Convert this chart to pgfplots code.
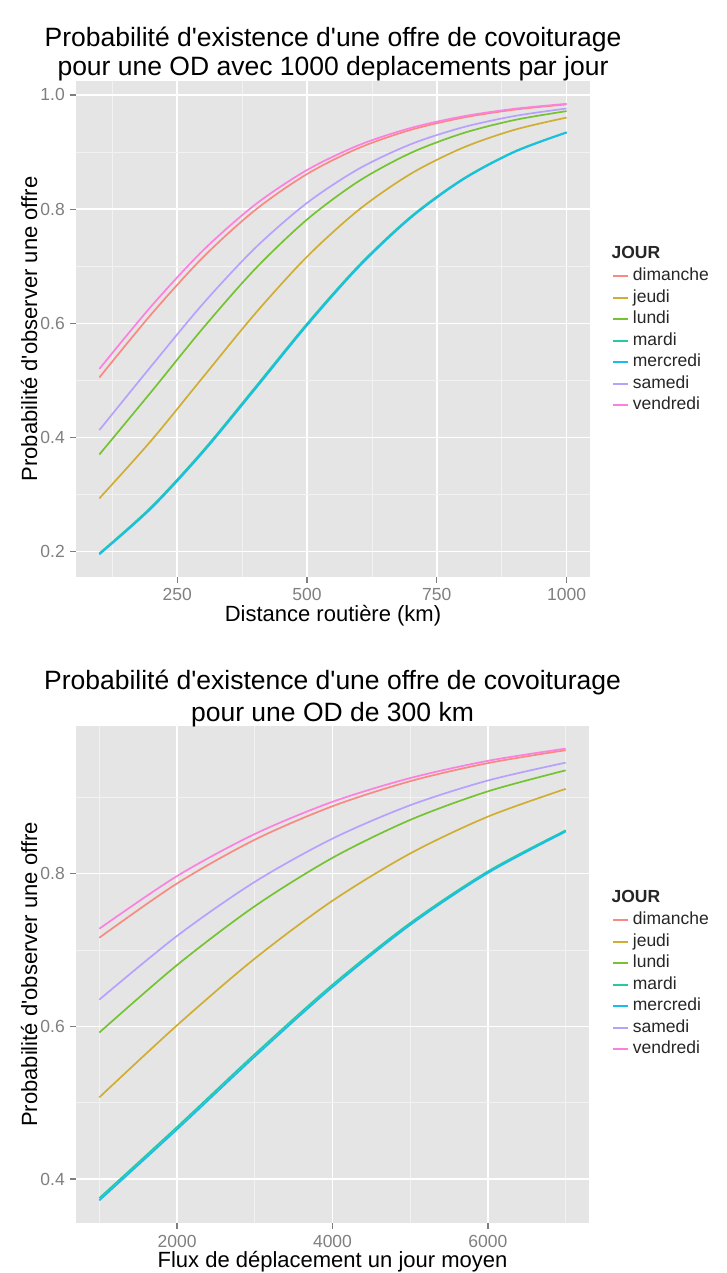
\documentclass[border=0pt]{standalone}
\usepackage{fontspec}
\setmainfont{Liberation Sans}
\usepackage{pgfplots}
\pgfplotsset{compat=1.18}
\definecolor{ggbg}{HTML}{E5E5E5}
\definecolor{ggminor}{HTML}{F2F2F2}
\definecolor{ggtick}{HTML}{7F7F7F}
\definecolor{cdim}{HTML}{F8766D}
\definecolor{cjeu}{HTML}{C49A00}
\definecolor{clun}{HTML}{53B400}
\definecolor{cmar}{HTML}{00C094}
\definecolor{cmer}{HTML}{00B6EB}
\definecolor{csam}{HTML}{A58AFF}
\definecolor{cven}{HTML}{FB61D7}
\newcommand\tfont{\fontsize{17.5}{21}\selectfont}
\newcommand\lfont{\fontsize{22}{26}\selectfont}
\newcommand\ttlfont{\fontsize{26.5}{30}\selectfont}
\newcommand\q{\textquotesingle}
\pgfplotsset{
  gg/.style={
    scale only axis,
    clip mode=individual,
    axis background/.style={fill=ggbg},
    axis line style={draw=none},
    grid=both,
    major grid style={draw=white, line width=1.5pt},
    minor grid style={draw=ggminor, line width=0.8pt},
    tick align=outside,
    tick pos=left,
    major tick length=6pt,
    minor tick length=0pt,
    tick style={draw=ggtick, line width=1.2pt},
    ticklabel style={font=\tfont, text=ggtick, inner sep=0pt},
    xticklabel style={anchor=base, yshift=-18pt},
    yticklabel style={anchor=east, xshift=-5pt},
    label style={font=\lfont},
    legend cell align=left,
    legend style={at={(axis description cs:1,1)}, anchor=north west,
      draw=none, fill=none, inner sep=0pt, font=\tfont, text=black!85,
      row sep=5.5pt,
      nodes={inner sep=0pt, text height=12.5pt, text depth=3.5pt},
      /tikz/every odd column/.append style={column sep=4pt}},
    legend image code/.code={\draw[##1, line width=1.7pt] (0pt,0pt) -- (15pt,0pt);},
    every axis plot/.append style={line width=1.7pt, no markers, smooth},
  }
}
\begin{document}
\begin{tikzpicture}
\useasboundingbox (0pt,0pt) rectangle (727pt,1273pt);
% ---------------- top panel ----------------
\begin{axis}[gg,
  at={(76pt,696pt)}, anchor=south west,
  width=514pt, height=496pt,
  xmin=55, xmax=1045, ymin=0.1555, ymax=1.0245,
  xtick={250,500,750,1000}, xticklabels={250,500,750,1000},
  minor xtick={125,375,625,875},
  ytick={0.2,0.4,0.6,0.8,1.0}, yticklabels={0.2,0.4,0.6,0.8,1.0},
  minor ytick={0.3,0.5,0.7,0.9},
  xlabel={Distance routière (km)},
  xlabel style={at={(axis description cs:0.5,0)}, anchor=base, yshift=-45pt},
  ylabel={Probabilité d\q observer une offre},
  ylabel style={at={(axis description cs:-0.0914,0.5)}, anchor=center},
  legend style={xshift=22pt, yshift=-187pt},
]
\addplot[cdim!85!white] coordinates {(100,0.5050)(200,0.6158)(300,0.7159)(400,0.7983)(500,0.8615)(600,0.9072)(700,0.9389)(800,0.9602)(900,0.9743)(1000,0.9835)};
\addlegendentry{dimanche}
\addplot[cjeu!80!white] coordinates {(100,0.2932)(200,0.3946)(300,0.5060)(400,0.6168)(500,0.7167)(600,0.7990)(700,0.8620)(800,0.9075)(900,0.9391)(1000,0.9604)};
\addlegendentry{jeudi}
\addplot[clun!80!white] coordinates {(100,0.3701)(200,0.4800)(300,0.5919)(400,0.6951)(500,0.7818)(600,0.8492)(700,0.8985)(800,0.9329)(900,0.9562)(1000,0.9717)};
\addlegendentry{lundi}
\addplot[cmar!85!white] coordinates {(100,0.1970)(200,0.2783)(300,0.3773)(400,0.4878)(500,0.5994)(600,0.7016)(700,0.7870)(800,0.8530)(900,0.9013)(1000,0.9348)};
\addlegendentry{mardi}
\addplot[cmer!90!white] coordinates {(100,0.1950)(200,0.2757)(300,0.3743)(400,0.4845)(500,0.5963)(600,0.6989)(700,0.7848)(800,0.8514)(900,0.9001)(1000,0.9340)};
\addlegendentry{mercredi}
\addplot[csam!80!white] coordinates {(100,0.4129)(200,0.5250)(300,0.6346)(400,0.7318)(500,0.8109)(600,0.8708)(700,0.9138)(800,0.9433)(900,0.9632)(1000,0.9763)};
\addlegendentry{samedi}
\addplot[cven!80!white] coordinates {(100,0.5200)(200,0.6299)(300,0.7279)(400,0.8078)(500,0.8685)(600,0.9122)(700,0.9422)(800,0.9625)(900,0.9758)(1000,0.9845)};
\addlegendentry{vendredi}
\node[anchor=base, font=\ttlfont] at (axis description cs:0.5,1) [yshift=34pt] {Probabilité d\q existence d\q une offre de covoiturage};
\node[anchor=base, font=\ttlfont] at (axis description cs:0.5,1) [yshift=5pt] {pour une OD avec 1000 deplacements par jour};
\node[anchor=base west, font=\tfont\bfseries, text=black!85] at (axis description cs:1,1) [xshift=18pt, yshift=-178pt] {JOUR};
\end{axis}
% ---------------- bottom panel ----------------
\begin{axis}[gg,
  at={(76pt,50pt)}, anchor=south west,
  width=513pt, height=497pt,
  xmin=700, xmax=7300, ymin=0.3424, ymax=0.9935,
  xtick={2000,4000,6000}, xticklabels={2000,4000,6000},
  minor xtick={1000,3000,5000,7000},
  ytick={0.4,0.6,0.8}, yticklabels={0.4,0.6,0.8},
  minor ytick={0.5,0.7,0.9},
  xlabel={Flux de déplacement un jour moyen},
  xlabel style={at={(axis description cs:0.5,0)}, anchor=base, yshift=-44pt},
  ylabel={Probabilité d\q observer une offre},
  ylabel style={at={(axis description cs:-0.0916,0.5)}, anchor=center},
  legend style={xshift=23pt, yshift=-186pt},
]
\addplot[cdim!85!white] coordinates {(1000,0.7161)(2000,0.7872)(3000,0.8445)(4000,0.8884)(5000,0.9212)(6000,0.9449)(7000,0.9618)};
\addlegendentry{dimanche}
\addplot[cjeu!80!white] coordinates {(1000,0.5070)(2000,0.6014)(3000,0.6888)(4000,0.7646)(5000,0.8265)(6000,0.8748)(7000,0.9111)};
\addlegendentry{jeudi}
\addplot[clun!80!white] coordinates {(1000,0.5919)(2000,0.6803)(3000,0.7574)(4000,0.8208)(5000,0.8705)(6000,0.9079)(7000,0.9354)};
\addlegendentry{lundi}
\addplot[cmar!85!white] coordinates {(1000,0.3750)(2000,0.4682)(3000,0.5636)(4000,0.6546)(5000,0.7354)(6000,0.8031)(7000,0.8568)};
\addlegendentry{mardi}
\addplot[cmer!90!white] coordinates {(1000,0.3720)(2000,0.4650)(3000,0.5604)(4000,0.6516)(5000,0.7329)(6000,0.8010)(7000,0.8552)};
\addlegendentry{mercredi}
\addplot[csam!80!white] coordinates {(1000,0.6350)(2000,0.7185)(3000,0.7893)(4000,0.8460)(5000,0.8897)(6000,0.9221)(7000,0.9455)};
\addlegendentry{samedi}
\addplot[cven!80!white] coordinates {(1000,0.7279)(2000,0.7969)(3000,0.8520)(4000,0.8942)(5000,0.9253)(6000,0.9479)(7000,0.9639)};
\addlegendentry{vendredi}
\node[anchor=base, font=\ttlfont] at (axis description cs:0.5,1) [yshift=36pt] {Probabilité d\q existence d\q une offre de covoiturage};
\node[anchor=base, font=\ttlfont] at (axis description cs:0.5,1) [yshift=4pt] {pour une OD de 300 km};
\node[anchor=base west, font=\tfont\bfseries, text=black!85] at (axis description cs:1,1) [xshift=19pt, yshift=-177pt] {JOUR};
\end{axis}
\end{tikzpicture}
\end{document}
